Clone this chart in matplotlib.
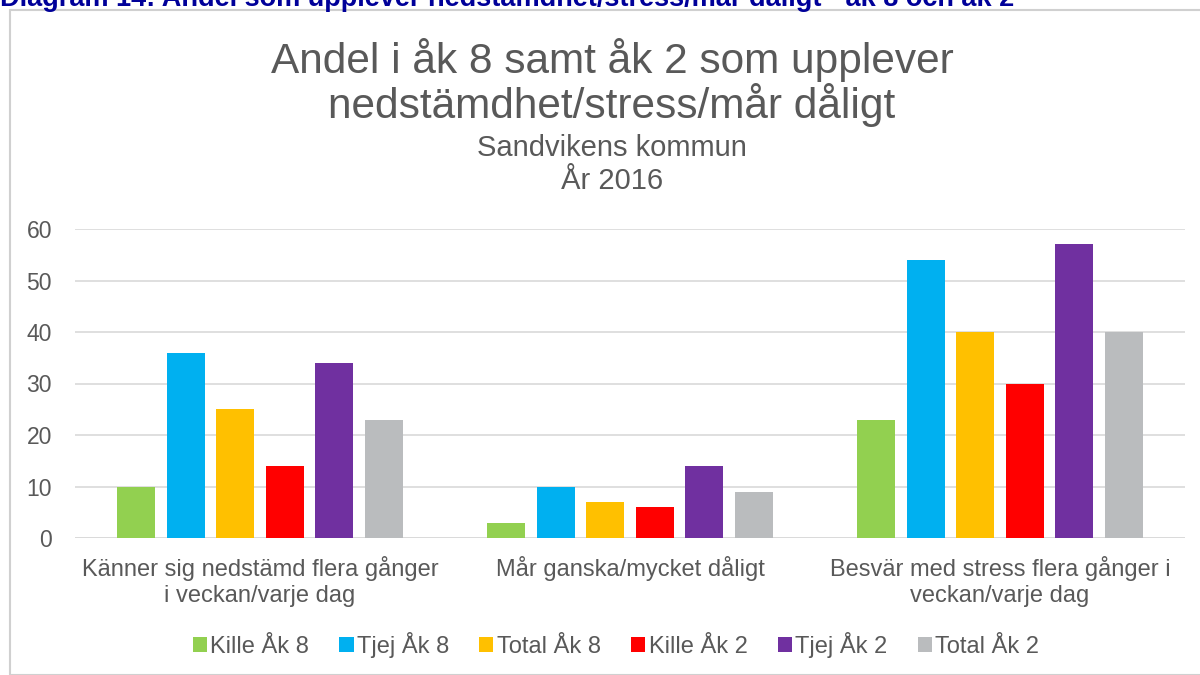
import matplotlib
matplotlib.use("Agg")
import matplotlib.pyplot as plt
from matplotlib.patches import Rectangle
import numpy as np

plt.rcParams['font.family'] = ['Liberation Sans', 'DejaVu Sans']

categories = ["Känner sig nedstämd flera gånger\ni veckan/varje dag",
              "Mår ganska/mycket dåligt",
              "Besvär med stress flera gånger i\nveckan/varje dag"]
series_names = ["Kille Åk 8", "Tjej Åk 8", "Total Åk 8", "Kille Åk 2", "Tjej Åk 2", "Total Åk 2"]
kille_ak8 = [10, 3, 23]
tjej_ak8 = [36, 10, 54]
total_ak8 = [25, 7, 40]
kille_ak2 = [14, 6, 30]
tjej_ak2 = [34, 14, 57]
total_ak2 = [23, 9, 40]
series_values = [kille_ak8, tjej_ak8, total_ak8, kille_ak2, tjej_ak2, total_ak2]
colors = ["#92d050", "#00b0f0", "#ffc000", "#ff0000", "#7030a0", "#babcbe"]
yticks = [0, 10, 20, 30, 40, 50, 60]

W, H = 1200, 675
fig = plt.figure(figsize=(12, 6.75), dpi=100)

# chart border
fig.patches.append(Rectangle((10 / W, 0), 1.2, 1 - 10 / H, transform=fig.transFigure,
                             fill=False, edgecolor="#d0d0d0", linewidth=1.5))

# cut-off document heading
fig.text(0.0, 1 - 6 / H, "Diagram 14: Andel som upplever nedstämdhet/stress/mår dåligt - åk 8 och åk 2",
         color="#000099", fontsize=19.5, fontweight="bold", va="baseline", ha="left")

x0, x1 = 75 / W, 1185 / W
y0, y1 = 1 - 538 / H, 1 - 229 / H
ax = fig.add_axes([x0, y0, x1 - x0, y1 - y0])

n = len(series_names)
slot = 49.5 / 370
bw = 38 / 370
x = np.arange(len(categories))
for i, (name, vals, c) in enumerate(zip(series_names, series_values, colors)):
    ax.bar(x + (i - (n - 1) / 2) * slot, vals, width=bw, color=c, label=name, zorder=3)

ax.set_xlim(-0.5, len(categories) - 0.5)
ax.set_ylim(0, 60)
ax.set_yticks(yticks)
ax.yaxis.grid(True, color="#d9d9d9", linewidth=1.2, zorder=0)
for s in ax.spines.values():
    s.set_visible(False)
ax.axhline(0, color="#d9d9d9", linewidth=1.2, zorder=1)
ax.tick_params(axis="both", length=0, labelcolor="#595959")
ax.tick_params(axis="y", pad=16.5, labelsize=16.5)
ax.tick_params(axis="x", pad=13, labelsize=17)
ax.set_xticks(x)
ax.set_xticklabels(categories, linespacing=1.25)

fig.text(612 / W, 1 - 60 / H, "Andel i åk 8 samt åk 2 som upplever", ha="center", va="center",
         fontsize=30.5, color="#595959")
fig.text(612 / W, 1 - 105 / H, "nedstämdhet/stress/mår dåligt", ha="center", va="center",
         fontsize=30.5, color="#595959")
fig.text(612 / W, 1 - 148 / H, "Sandvikens kommun", ha="center", va="center",
         fontsize=21, color="#595959")
fig.text(612 / W, 1 - 181 / H, "År 2016", ha="center", va="center",
         fontsize=21, color="#595959")

leg = fig.legend(loc="center", bbox_to_anchor=(616 / W, 1 - 645 / H), ncol=6, frameon=False,
                 fontsize=17, handlelength=0.6, handleheight=0.6, handletextpad=0.15,
                 columnspacing=1.27, labelcolor="#595959")

fig.savefig("out.png", dpi=100)
